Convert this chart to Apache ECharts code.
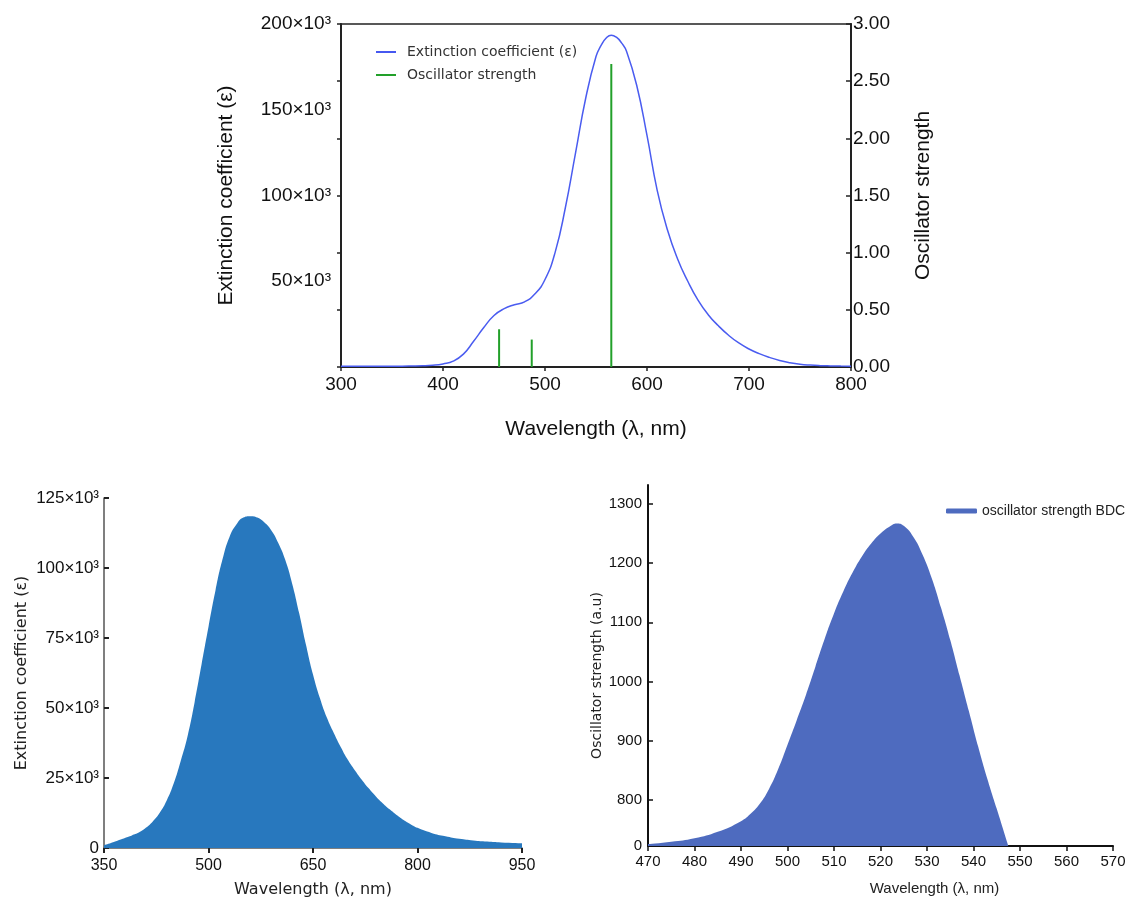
<!DOCTYPE html>
<html>
<head>
<meta charset="utf-8">
<script src="https://cdn.jsdelivr.net/npm/echarts@6/dist/echarts.min.js"></script>
<style>html,body{margin:0;padding:0;background:#fff}#c{width:1132px;height:899px}</style>
</head>
<body>
<div id="c"></div>
<script>
// ---- Top chart data ----
const topWavelength = [300,320,340,360,380,390,400,410,420,430,440,450,460,470,480,490,500,510,520,530,540,550,555,560,565,570,575,580,590,600,610,620,630,640,650,660,670,680,690,700,710,720,730,740,750,760,770,780,790,800];
const topExtinction = [400,400,400,500,700,1000,1800,3400,7500,15000,23000,30000,34000,36300,38000,42500,51000,67000,93000,125000,157000,181000,187500,191800,193500,192300,189000,184000,164000,135000,103000,80000,63000,50000,39000,30500,24000,18500,14000,10500,7800,5600,3800,2500,1600,1100,800,650,550,500];
const topOscWavelength = [455,487,565];
const topOscStrength = [0.33,0.24,2.65];
const topXTicks = [300,400,500,600,700,800];
const topLeftLabelValues = [50000,100000,150000,200000];
const topLeftTickValues = [0,33333,66667,100000,133333,166667,200000];
const topRightValues = [0,0.5,1,1.5,2,2.5,3];

// ---- Bottom-left data ----
const blWavelength = [350,360,370,380,390,400,410,420,430,440,450,460,470,480,490,500,510,520,530,540,550,560,570,580,590,600,610,620,630,640,650,660,670,680,690,700,710,720,730,740,750,760,770,780,790,800,820,840,860,880,900,920,950];
const blExtinction = [1000,1800,2700,3600,4500,5500,7200,9500,12600,17000,23000,31000,40000,52000,65500,79000,92000,103000,111000,115500,118000,118500,118000,116300,113500,109000,103000,94500,84000,72500,62000,53500,46500,41000,36000,31500,27800,24400,21300,18500,16000,13800,11800,10000,8500,7200,5400,4200,3300,2700,2300,2000,1700];
const blXTicks = [350,500,650,800,950];
const blYTicks = [0,25000,50000,75000,100000,125000];

// ---- Bottom-right data ----
const brWavelength = [470,475,480,485,490,492,494,496,498,500,502,504,506,508,510,512,514,516,518,520,522,523.5,525,527,529,531,533,535,537,539,541,543,545,547.5];
const brOscillator = [725,729,735,746,764,776,793,818,852,893,935,978,1025,1072,1115,1152,1184,1211,1233,1250,1262,1267,1263,1245,1215,1175,1125,1070,1010,950,890,835,785,722];
const brYTickValues = [722,800,900,1000,1100,1200,1300];
const brYTickLabels = ['0','800','900','1000','1100','1200','1300'];

const SANS = 'Liberation Sans';
const DJ = 'DejaVu Sans';
const sup = v => (v/1000) + '×10³';

const chart = echarts.init(document.getElementById('c'), null, {renderer:'canvas'});
chart.setOption({
  animation:false,
  backgroundColor:'#fff',
  grid:[
    {left:341, top:24, width:510, height:343, show:true, borderColor:'#222', borderWidth:1.5},
    {left:104, top:498, width:418, height:350},
    {left:648, top:485, width:465, height:361}
  ],
  legend:[
    {data:[{name:'Extinction coefficient (ε)', icon:'rect'},{name:'Oscillator strength', icon:'rect'}],
     orient:'vertical', left:371, top:40, itemWidth:20, itemHeight:2, itemGap:9,
     textStyle:{fontFamily:DJ, fontSize:14, color:'#333', padding:[0,0,0,6]}},
    {data:[{name:'oscillator strength BDC', icon:'roundRect'}], left:941, top:499, itemWidth:31, itemHeight:5,
     textStyle:{fontFamily:SANS, fontSize:14, color:'#222'}}
  ],
  xAxis:[
    {gridIndex:0, type:'value', min:300, max:800,
     name:'Wavelength (λ, nm)', nameLocation:'middle', nameGap:52,
     nameTextStyle:{fontFamily:SANS, fontSize:21, color:'#111'},
     axisLine:{lineStyle:{color:'#222', width:2}},
     axisTick:{customValues:topXTicks, length:4, lineStyle:{color:'#222', width:1.5}},
     axisLabel:{customValues:topXTicks, fontFamily:SANS, fontSize:19, color:'#111', margin:8},
     splitLine:{show:false}},
    {gridIndex:1, type:'value', min:350, max:950,
     name:'Wavelength (λ, nm)', nameLocation:'middle', nameGap:34,
     nameTextStyle:{fontFamily:DJ, fontSize:16, color:'#222'},
     axisLine:{lineStyle:{color:'#555', width:1.5}},
     axisTick:{customValues:blXTicks, length:5, lineStyle:{color:'#222', width:2}},
     axisLabel:{customValues:blXTicks, fontFamily:SANS, fontSize:16, color:'#111', margin:10},
     splitLine:{show:false}},
    {gridIndex:2, type:'value', min:470, max:570, interval:10,
     name:'Wavelength (λ, nm)', nameLocation:'middle', nameGap:35,
     nameTextStyle:{fontFamily:SANS, fontSize:15, color:'#222', padding:[0,0,0,108]},
     axisLine:{lineStyle:{color:'#111', width:2}},
     axisTick:{length:5, lineStyle:{color:'#111', width:1.5}},
     axisLabel:{fontFamily:SANS, fontSize:15, color:'#111', margin:8},
     splitLine:{show:false}}
  ],
  yAxis:[
    {gridIndex:0, type:'value', min:0, max:200000, position:'left',
     name:'Extinction coefficient (ε)', nameLocation:'middle', nameGap:104,
     nameTextStyle:{fontFamily:SANS, fontSize:21, color:'#111'},
     axisLine:{show:true, lineStyle:{color:'#222', width:2}},
     axisTick:{show:true, customValues:topLeftTickValues, length:4, lineStyle:{color:'#222', width:1.5}},
     axisLabel:{customValues:topLeftLabelValues, formatter:sup, fontFamily:SANS, fontSize:19, color:'#111', margin:10},
     splitLine:{show:false}},
    {gridIndex:0, type:'value', min:0, max:3, position:'right',
     name:'Oscillator strength', nameLocation:'middle', nameGap:62,
     nameTextStyle:{fontFamily:SANS, fontSize:21, color:'#111'},
     axisLine:{show:true, lineStyle:{color:'#222', width:2}},
     axisTick:{show:true, inside:true, customValues:topRightValues, length:5, lineStyle:{color:'#222', width:1.5}},
     axisLabel:{customValues:topRightValues, formatter:v=>v.toFixed(2), fontFamily:SANS, fontSize:19, color:'#111', margin:2},
     splitLine:{show:false}},
    {gridIndex:1, type:'value', min:0, max:125000,
     name:'Extinction coefficient (ε)', nameLocation:'middle', nameGap:74,
     nameTextStyle:{fontFamily:DJ, fontSize:16, color:'#222'},
     axisLine:{show:true, lineStyle:{color:'#555', width:1.5}},
     axisTick:{show:true, inside:true, customValues:blYTicks, length:5, lineStyle:{color:'#222', width:2}},
     axisLabel:{customValues:blYTicks, formatter:v=>v===0?'0':sup(v), fontFamily:SANS, fontSize:17, color:'#111', margin:5},
     splitLine:{show:false}},
    {gridIndex:2, type:'value', min:722, max:1332,
     name:'Oscillator strength (a.u)', nameLocation:'middle', nameGap:44,
     nameTextStyle:{fontFamily:DJ, fontSize:14, color:'#222', padding:[0,0,0,-20]},
     axisLine:{show:true, lineStyle:{color:'#111', width:2}},
     axisTick:{show:true, inside:true, customValues:brYTickValues, length:5, lineStyle:{color:'#111', width:1.5}},
     axisLabel:{customValues:brYTickValues, formatter:v=>brYTickLabels[brYTickValues.indexOf(v)], fontFamily:SANS, fontSize:15, color:'#111', margin:6},
     splitLine:{show:false}}
  ],
  series:[
    {name:'Extinction coefficient (ε)', type:'line', xAxisIndex:0, yAxisIndex:0, smooth:0.5,
     showSymbol:false, symbol:'none', color:'#4658f0', lineStyle:{width:1.5, color:'#4a5cf0'},
     data: topWavelength.map((w,i)=>[w, topExtinction[i]])},
    {name:'Oscillator strength', type:'bar', xAxisIndex:0, yAxisIndex:1, barWidth:2,
     color:'#1f9e2a', itemStyle:{color:'#22a02a'},
     data: topOscWavelength.map((w,i)=>[w, topOscStrength[i]])},
    {name:'bl', type:'line', xAxisIndex:1, yAxisIndex:2, smooth:0.5, showSymbol:false, symbol:'none',
     lineStyle:{width:0}, areaStyle:{color:'#2878be', opacity:1}, color:'#2878be',
     data: blWavelength.map((w,i)=>[w, blExtinction[i]])},
    {name:'oscillator strength BDC', type:'line', xAxisIndex:2, yAxisIndex:3, smooth:0.5, showSymbol:false, symbol:'none',
     lineStyle:{width:0}, areaStyle:{color:'#4e6bbf', opacity:1, origin:'start'}, color:'#4e6bbf',
     data: brWavelength.map((w,i)=>[w, brOscillator[i]])}
  ]
});
</script>
</body>
</html>
